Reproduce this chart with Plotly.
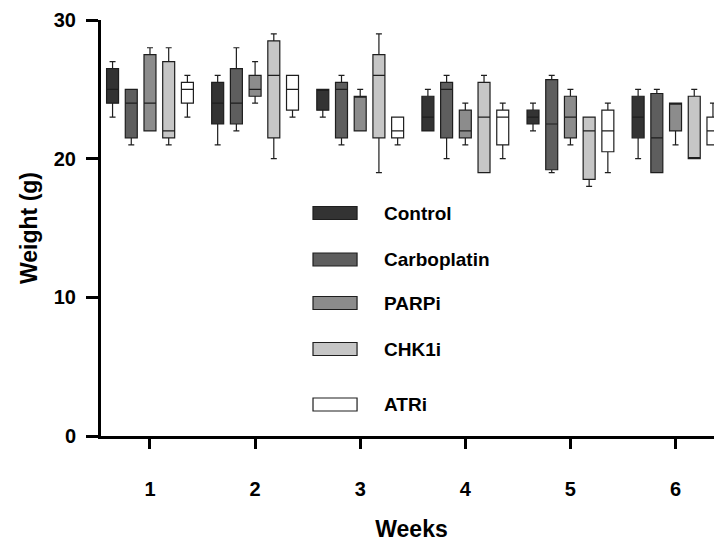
import plotly.graph_objects as go

weeks = [1, 2, 3, 4, 5, 6]
groups = ["Control", "Carboplatin", "PARPi", "CHK1i", "ATRi"]
fills = ["#333333", "#5e5e5e", "#8c8c8c", "#c6c6c6", "#ffffff"]
offsets = [-0.356, -0.178, 0.0, 0.178, 0.356]

# per-group stats over weeks 1..6
control_min = [23, 21, 23, 22, 22, 20]
control_q1 = [24, 22.5, 23.5, 22, 22.5, 21.5]
control_med = [25, 24, 25, 23, 23, 23]
control_q3 = [26.5, 25.5, 25, 24.5, 23.5, 24.5]
control_max = [27, 26, 25, 25, 24, 25]

carbo_min = [21, 22, 21, 20, 19, 19]
carbo_q1 = [21.5, 22.5, 21.5, 21.5, 19.2, 19]
carbo_med = [24, 24, 25, 25, 22.5, 21.5]
carbo_q3 = [25, 26.5, 25.5, 25.5, 25.7, 24.7]
carbo_max = [25, 28, 26, 26, 26, 25]

parpi_min = [22, 24, 22, 21, 21, 21]
parpi_q1 = [22, 24.5, 22, 21.5, 21.5, 22]
parpi_med = [24, 25, 24.5, 22, 23, 24]
parpi_q3 = [27.5, 26, 24.5, 23.5, 24.5, 24]
parpi_max = [28, 27, 25, 24, 25, 24]

chk1i_min = [21, 20, 19, 19, 18, 20]
chk1i_q1 = [21.5, 21.5, 21.5, 19, 18.5, 20]
chk1i_med = [22, 26, 26, 23, 22, 20]
chk1i_q3 = [27, 28.5, 27.5, 25.5, 23, 24.5]
chk1i_max = [28, 29, 29, 26, 23, 25]

atri_min = [23, 23, 21, 20, 19, 21]
atri_q1 = [24, 23.5, 21.5, 21, 20.5, 21]
atri_med = [25, 25, 22, 23, 22, 22]
atri_q3 = [25.5, 26, 23, 23.5, 23.5, 23]
atri_max = [26, 26, 23, 24, 24, 24]

stats = [
    (control_min, control_q1, control_med, control_q3, control_max),
    (carbo_min, carbo_q1, carbo_med, carbo_q3, carbo_max),
    (parpi_min, parpi_q1, parpi_med, parpi_q3, parpi_max),
    (chk1i_min, chk1i_q1, chk1i_med, chk1i_q3, chk1i_max),
    (atri_min, atri_q1, atri_med, atri_q3, atri_max),
]

yticks = [0, 10, 20, 30]

fig = go.Figure()
for name, fill, off, (mn, q1, med, q3, mx) in zip(groups, fills, offsets, stats):
    fig.add_trace(go.Box(
        name=name,
        x=[w + off for w in weeks],
        lowerfence=mn, q1=q1, median=med, q3=q3, upperfence=mx,
        fillcolor=fill,
        line=dict(color="#1e1e1e", width=1.2),
        width=0.114,
        whiskerwidth=0.5,
        showlegend=False,
        hoverinfo="skip",
    ))

font_family = "Liberation Sans, Arial, sans-serif"

# manual legend (paper coordinates relative to plot area)
leg_y = [213, 259.5, 303, 349, 404.5]  # pixel centers on the page
plot_top, plot_bot = 20, 436
for name, fill, py in zip(groups, fills, leg_y):
    y0 = (plot_bot - (py + 6.5)) / (plot_bot - plot_top)
    y1 = (plot_bot - (py - 6.5)) / (plot_bot - plot_top)
    fig.add_shape(type="rect", xref="x", yref="paper",
                  x0=2.551, x1=2.970, y0=y0, y1=y1,
                  fillcolor=fill, line=dict(color="#1e1e1e", width=1.2))
    fig.add_annotation(x=3.208, y=(plot_bot - py) / (plot_bot - plot_top),
                       xref="x", yref="paper", text="<b>%s</b>" % name,
                       showarrow=False, xanchor="left", yanchor="middle",
                       font=dict(family=font_family, size=19, color="#000"))

fig.update_layout(
    width=714, height=538,
    margin=dict(l=93, r=0, t=12, b=110),
    plot_bgcolor="white", paper_bgcolor="white",
    boxmode="overlay",
    font=dict(family=font_family, color="#000"),
    xaxis=dict(
        range=[0.534, 6.442],
        tickmode="array", tickvals=weeks, ticktext=["<b>%d</b>" % w for w in weeks],
        ticks="outside", ticklen=10, tickwidth=3, tickcolor="#000",
        showline=True, linewidth=3, linecolor="#000",
        showgrid=False, zeroline=False,
        tickfont=dict(size=20, family=font_family),
        ticklabelstandoff=23,
        title=dict(text="<b>Weeks</b>", font=dict(size=23, family=font_family), standoff=22),
    ),
    yaxis=dict(
        range=[0, 30],
        tickmode="array", tickvals=yticks, ticktext=["<b>%d</b>" % v for v in yticks],
        ticks="outside", ticklen=12, tickwidth=3, tickcolor="#000",
        showline=True, linewidth=3, linecolor="#000",
        showgrid=False, zeroline=False,
        tickfont=dict(size=20, family=font_family),
        ticklabelstandoff=6,
        title=dict(text="<b>Weight (g)</b>", font=dict(size=23, family=font_family), standoff=10),
    ),
)

fig.write_html("out.html")
